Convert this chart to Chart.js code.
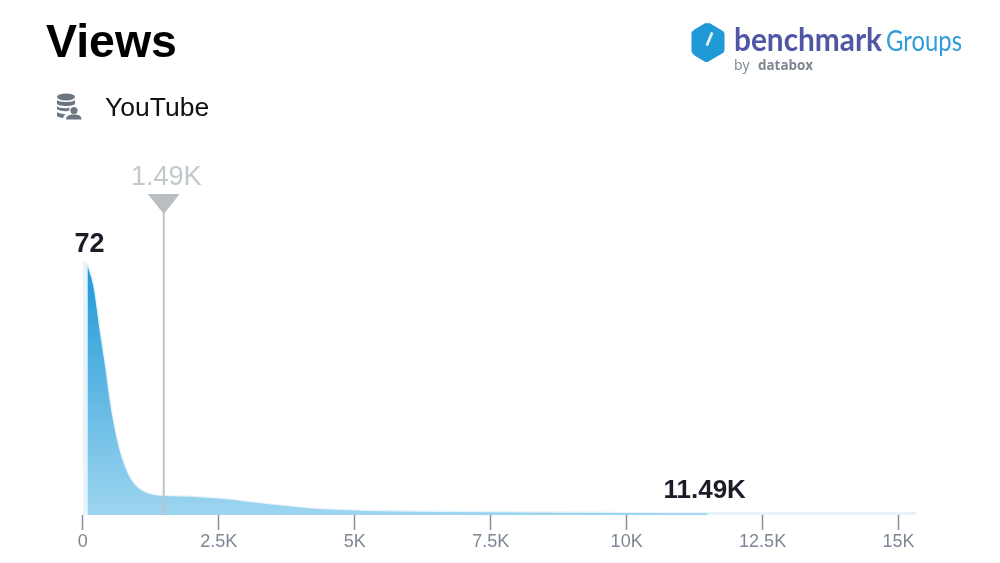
<!DOCTYPE html>
<html>
<head>
<meta charset="utf-8">
<title>Views</title>
<script src="https://cdn.jsdelivr.net/npm/chart.js@4"></script>
<style>
  html, body { margin: 0; padding: 0; background: #fff; }
  #page { position: relative; width: 1000px; height: 563px; overflow: hidden; font-family: "Liberation Sans", Arial, sans-serif; }
  #priceChart { position: absolute; left: 0; top: 0; }
  h1 { position: absolute; left: 46px; top: 14px; margin: 0; font-size: 46.500px; line-height: 54px; font-weight: 700; color: #000; }
  #source { position: absolute; left: 105px; top: 92px; font-size: 26.500px; line-height: 30px; color: #111; }
  #sourceIcon { position: absolute; left: 56px; top: 93px; }
  #logo { position: absolute; left: 688px; top: 18px; }
</style>
</head>
<body>
<div id="page">
  <canvas id="priceChart" width="1000" height="563"></canvas>
  <h1>Views</h1>
  <svg id="sourceIcon" width="26" height="28" viewBox="0 0 26 28">
    <g fill="#6b7680">
      <ellipse cx="10" cy="4" rx="9" ry="3.4"/>
      <path d="M1 7c2 2.6 16 2.6 18 0v4c-2 2.6-16 2.6-18 0z"/>
      <path d="M1 13c2 2.6 10 2.8 13 1.2-1 1.2-1 2.6-.6 3.6-4 .8-10.400.2-12.400-1.800z"/>
      <path d="M1 19c2 1.600 6 2.200 9 2.100-1.500.8-2.500 2-2.800 3.900-2.500-.2-5.200-1-6.200-2z"/>
      <circle cx="18" cy="17.500" r="3.600"/>
      <path d="M10 26.500c0-3.800 3.600-5 8-5s7.500 1.200 7.500 5z"/>
    </g>
  </svg>
  <div id="source">YouTube</div>
  <svg id="logo" width="280" height="60" viewBox="0 0 280 60">
    <path d="M20.500 4.500l14 8.200q2 1.200 2 3.500v15.600q0 2.300-2 3.500l-14 8.200q-2 1.100-4 0l-10-6q-3-1.800-3-4.500v-17q0-2.700 3-4.500l10-6q2-1.200 4 0z" fill="#1f9ad6"/>
    <path d="M23 14l2.500 1-5.500 13-2.500-1z" fill="#e8f4fb"/>
    <text x="46" y="33" textLength="148" lengthAdjust="spacingAndGlyphs" font-family="Lato" font-weight="700" font-size="32" fill="#4f57a5">benchmark</text>
    <text x="198" y="33" textLength="76" lengthAdjust="spacingAndGlyphs" font-family="Lato" font-size="29" fill="#2f9ed8">Groups</text>
    <text x="46" y="52" font-family="'Open Sans'" font-size="14" fill="#7d8590">by</text>
    <text x="70" y="52" textLength="55" lengthAdjust="spacingAndGlyphs" font-family="'Open Sans'" font-weight="700" font-size="15" fill="#7d8590">databox</text>
  </svg>
</div>
<script>
// Distribution
const viewsX = [0, 88, 198, 321, 413, 492, 565, 657, 749, 872, 1024, 1239, 1483, 1974, 2520, 3015, 3500, 4230, 4970, 5460, 7500, 10000, 11490, 13000, 15320];
const density = [72, 71, 64.9, 51.4, 42, 32.9, 26.2, 19.5, 14.8, 10.5, 7.6, 5.9, 5.4, 5.2, 4.6, 3.8, 2.9, 1.8, 1.3, 1.1, 0.8, 0.6, 0.5, 0.5, 0.5];

const xTickValues = [0, 2500, 5000, 7500, 10000, 12500, 15000];
const xTickLabels = ["0", "2.5K", "5K", "7.5K", "10K", "12.5K", "15K"];

const rangeLow = 88;
const rangeHigh = 11490;
const rangeLowLabel = "72";
const rangeHighLabel = "11.49K";
const medianViews = 1490;
const medianLabel = "1.49K";
const medianTop = 86;

const allPoints = viewsX.map((x, i) => ({ x: x, y: density[i] }));
const rangePoints = allPoints.filter((p) => p.x >= rangeLow && p.x <= rangeHigh);

// Labels and the triangle marker, placed through the chart's scales
const labelPlugin = {
  id: "labelPlugin",
  afterDatasetsDraw(chart) {
    const ctx = chart.ctx;
    const xs = chart.scales.x;
    const ys = chart.scales.y;
    const mx = xs.getPixelForValue(medianViews);
    const my = ys.getPixelForValue(medianTop);

    ctx.save();
    ctx.fillStyle = "#b9bec2";
    ctx.beginPath();
    ctx.moveTo(mx - 16, my - 19);
    ctx.lineTo(mx + 16, my - 19);
    ctx.lineTo(mx, my + 1);
    ctx.closePath();
    ctx.fill();

    ctx.textAlign = "center";
    ctx.textBaseline = "alphabetic";
    ctx.font = '27px "Liberation Sans"';
    ctx.fillStyle = "#c3c8cc";
    ctx.fillText(medianLabel, mx + 2.5, my - 28);

    ctx.font = 'bold 27px "Liberation Sans"';
    ctx.fillStyle = "#1c1c28";
    ctx.fillText(rangeLowLabel, xs.getPixelForValue(rangeLow) + 2, ys.getPixelForValue(72) - 10);

    ctx.font = 'bold 26px "Liberation Sans"';
    ctx.fillText(rangeHighLabel, xs.getPixelForValue(rangeHigh) - 3, ys.getPixelForValue(0) - 17);
    ctx.restore();
  }
};

function areaGradient(context) {
  const chart = context.chart;
  if (!chart.chartArea) return "#5ab4e3";
  const g = chart.ctx.createLinearGradient(0, chart.scales.y.getPixelForValue(72), 0, chart.scales.y.getPixelForValue(0));
  g.addColorStop(0, "#1e98d6");
  g.addColorStop(1, "#9dd5f0");
  return g;
}

new Chart(document.getElementById("priceChart").getContext("2d"), {
  type: "line",
  data: {
    datasets: [
      {
        data: [{ x: medianViews, y: 0 }, { x: medianViews, y: medianTop }],
        borderColor: "#bfc4c8",
        borderWidth: 2,
        pointRadius: 0,
        fill: false,
        order: 1
      },
      {
        data: rangePoints,
        borderWidth: 0,
        backgroundColor: areaGradient,
        pointRadius: 0,
        cubicInterpolationMode: "monotone",
        fill: "origin",
        order: 2
      },
      {
        data: allPoints,
        borderColor: "#e6f3fb",
        borderWidth: 2.5,
        backgroundColor: "#e6f3fb",
        pointRadius: 0,
        cubicInterpolationMode: "monotone",
        fill: "origin",
        order: 3
      }
    ]
  },
  options: {
    responsive: false,
    animation: false,
    layout: { padding: { left: 82.7, right: 84, top: 199, bottom: 0 } },
    plugins: { legend: { display: false }, tooltip: { enabled: false } },
    scales: {
      x: {
        type: "linear",
        min: 0,
        max: 15320,
        border: { display: false },
        grid: { drawOnChartArea: false, drawTicks: true, tickLength: 15, tickWidth: 1.5, tickColor: "#87919b" },
        afterBuildTicks(scale) {
          scale.ticks = xTickValues.map((v) => ({ value: v }));
        },
        afterFit(scale) {
          scale.height = 48;
        },
        ticks: {
          autoSkip: false,
          maxRotation: 0,
          padding: 1,
          color: "#7b8794",
          font: { family: "Liberation Sans", size: 18 },
          callback(value) {
            return xTickLabels[xTickValues.indexOf(value)];
          }
        }
      },
      y: { display: false, min: 0, max: 90 }
    }
  },
  plugins: [labelPlugin]
});
</script>
</body>
</html>
